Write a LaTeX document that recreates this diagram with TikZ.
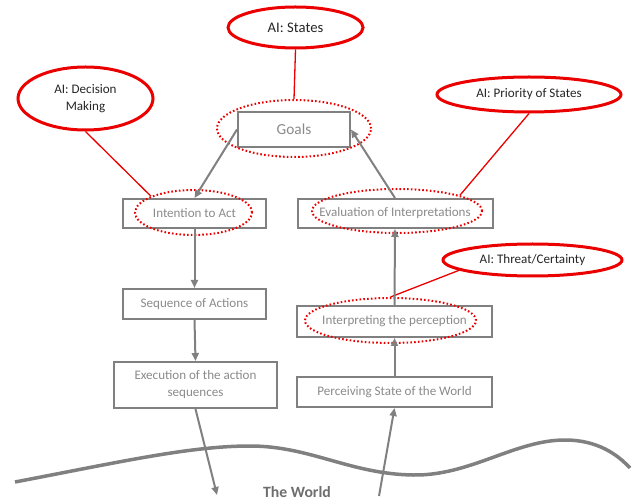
\documentclass[tikz,border=0pt]{standalone}
\usepackage{fontspec}
\setmainfont{Carlito}
\usetikzlibrary{arrows.meta,shapes.geometric}

\newlength{\du}
\setlength{\du}{0.75pt}

\definecolor{boxgray}{RGB}{128,128,128}
\definecolor{labelgray}{RGB}{138,138,138}
\definecolor{worldgray}{RGB}{110,110,110}
\definecolor{aired}{RGB}{235,0,0}

\tikzset{
  stepbox/.style={draw=boxgray, line width=2\du, inner sep=0pt, text=labelgray, align=center,
    font=\fontsize{9.8}{12.75}\selectfont},
  ring/.style={draw=aired, ellipse, line width=2\du, dash pattern=on 1.6\du off 2.2\du, inner sep=0pt},
  aibubble/.style={draw=aired, ellipse, line width=3\du, inner sep=0pt, text=black!85, align=center,
    font=\fontsize{9.8}{12.75}\selectfont},
  flow/.style={draw=boxgray, line width=2\du, -{Triangle[length=6pt,width=5.25pt]}},
  tie/.style={draw=aired, line width=1.3\du},
}

\begin{document}
\begin{tikzpicture}
\pgftransformxscale{1.000000}
\pgftransformyscale{-1.000000}
\useasboundingbox (0\du,0\du) rectangle (632\du,502\du);
% the world
\draw[boxgray, line width=3.5\du] (15\du,482\du) .. controls (120\du,462\du) and (190\du,446\du) .. (250\du,446\du)
  .. controls (310\du,446\du) and (350\du,474\du) .. (413\du,475\du)
  .. controls (470\du,476\du) and (515\du,440\du) .. (565\du,440\du)
  .. controls (598\du,440\du) and (618\du,455\du) .. (630\du,468\du);
\node[text=worldgray, font=\fontsize{11.8}{13}\selectfont\bfseries] (world) at (297\du,492\du) {The World};
\coordinate (drop) at (217\du,495\du);
\coordinate (rise) at (379\du,496\du);
% boxes
\node[stepbox, minimum width=112\du, minimum height=35\du, font=\fontsize{11.5}{13}\selectfont] (goals) at (294\du,129.5\du) {Goals};
\node[stepbox, minimum width=143\du, minimum height=29\du] (intent) at (194.5\du,213.5\du) {Intention to Act};
\node[stepbox, minimum width=195\du, minimum height=29\du] (evalu) at (395\du,213.5\du) {Evaluation of Interpretations};
\node[stepbox, minimum width=143\du, minimum height=30\du] (seq) at (194.5\du,304\du) {Sequence of Actions};
\node[stepbox, minimum width=163\du, minimum height=46\du] (exec) at (195.5\du,385\du) {Execution of the action\\sequences};
\node[stepbox, minimum width=195\du, minimum height=31\du] (interp) at (394.5\du,321.5\du) {Interpreting the perception};
\node[stepbox, minimum width=195\du, minimum height=30\du] (perc) at (394.5\du,392\du) {Perceiving State of the World};
% dotted rings
\node[ring, minimum width=154\du, minimum height=57\du] (goalsring) at (294\du,128.5\du) {};
\node[ring, minimum width=117\du, minimum height=45\du] (intentring) at (193.5\du,212.5\du) {};
\node[ring, minimum width=170\du, minimum height=44\du] (evaluring) at (397\du,211\du) {};
\node[ring, minimum width=171\du, minimum height=45\du] (interpring) at (390.5\du,320.5\du) {};
% AI bubbles
\node[aibubble, minimum width=135\du, minimum height=41\du, font=\fontsize{11}{13}\selectfont] (states) at (295.5\du,27.5\du) {AI: States};
\node[aibubble, minimum width=135\du, minimum height=63\du] (decision) at (85.5\du,98.5\du) {AI: Decision\\Making};
\node[aibubble, minimum width=184\du, minimum height=35\du] (priority) at (529\du,94.5\du) {AI: Priority of States};
\node[aibubble, minimum width=179\du, minimum height=32\du] (threat) at (532.5\du,260\du) {AI: Threat/Certainty};
% ties
\draw[tie] (states.south) -- (goalsring.north);
\draw[tie] (decision.south) -- (intentring.159);
\draw[tie] (priority.south) -- (evaluring.14);
\draw[tie] (threat.188) -- (interpring.north);
% flow
\draw[flow] (goals.west) -- (intent.north);
\draw[flow] (evalu.north) -- (goals.east);
\draw[flow] (intent.south) -- (seq.north);
\draw[flow] (seq.south) -- (exec.north);
\draw[flow] (exec.south) -- (drop);
\draw[flow] (rise) -- (perc.south);
\draw[flow] (perc.north) -- (interp.south);
\draw[flow] (interp.north) -- (evalu.south);
\end{tikzpicture}
\end{document}
